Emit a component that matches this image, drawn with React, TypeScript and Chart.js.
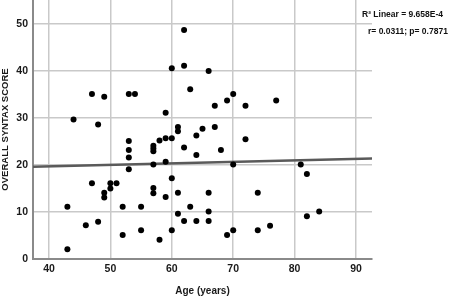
import React, { useEffect, useRef } from "react";
import { Chart, registerables } from "chart.js";

Chart.register(...registerables);

const ages = [
  47, 49, 53, 54, 44, 48, 62, 60, 62, 66, 63, 70, 69, 67, 72, 59, 61, 61, 65, 67,
  64, 77, 72, 57, 57, 57, 58, 59, 60, 62, 64, 68, 57, 59, 70, 60, 57, 57, 59, 61,
  66, 74, 55, 63, 61, 66, 66, 62, 64, 55, 60, 58, 69, 70, 74, 53, 53, 53, 53, 47,
  50, 50, 51, 49, 49, 43, 52, 46, 48, 52, 43, 76, 81, 82, 82, 84,
];
const scores = [
  35.1, 34.5, 35.1, 35.1, 29.7, 28.6, 48.7, 40.6, 41.1, 40.0, 36.1, 35.1, 33.7, 32.6, 32.6, 31.1, 28.1, 27.2, 27.7, 28.1,
  26.3, 33.7, 25.5, 24.1, 23.5, 22.9, 25.2, 25.7, 25.7, 23.7, 22.1, 23.2, 20.1, 20.7, 20.1, 17.2, 15.1, 14.0, 13.2, 14.1,
  14.1, 14.1, 11.1, 11.1, 9.6, 10.1, 8.1, 8.1, 8.1, 6.1, 6.1, 4.1, 5.1, 6.1, 6.1, 25.1, 23.2, 21.6, 19.1, 16.1,
  16.1, 15.0, 16.1, 14.1, 13.1, 11.1, 11.1, 7.2, 7.9, 5.1, 2.1, 7.1, 20.1, 18.1, 9.1, 10.1,
];
const fitX = [37.4, 92.6];
const fitY = [19.6, 21.4];
const xTicks = [40, 50, 60, 70, 80, 90];
const yTicks = [0, 10, 20, 30, 40, 50];
const xTitle = "Age (years)";
const yTitle = "OVERALL SYNTAX SCORE";
const annotation = ["R² Linear = 9.658E-4", "r= 0.0311; p= 0.7871"];

const FONT = "'Liberation Sans', Arial, sans-serif";

export default function App() {
  const ref = useRef<HTMLCanvasElement | null>(null);

  useEffect(() => {
    if (!ref.current) return;
    const annotationPlugin = {
      id: "annot",
      afterDraw(chart: any) {
        const ctx = chart.ctx;
        ctx.save();
        ctx.fillStyle = "#111";
        ctx.font = `bold 8.5px ${FONT}`;
        ctx.textBaseline = "middle";
        ctx.textAlign = "left";
        ctx.fillText(annotation[0], 362, 15);
        ctx.fillText(annotation[1], 368, 32);
        ctx.restore();
      },
    };
    const chart = new Chart(ref.current, {
      type: "scatter",
      data: {
        datasets: [
          {
            label: "fit",
            type: "line",
            data: fitX.map((x, i) => ({ x, y: fitY[i] })),
            borderColor: "#5a5a5a",
            borderWidth: 2.5,
            pointRadius: 0,
            fill: false,
            order: 2,
          } as any,
          {
            label: "points",
            data: ages.map((x, i) => ({ x, y: scores[i] })),
            backgroundColor: "#000",
            borderColor: "#000",
            pointRadius: 3,
            borderWidth: 0,
            order: 1,
          },
        ],
      },
      plugins: [annotationPlugin],
      options: {
        animation: false,
        responsive: false,
        maintainAspectRatio: false,
        layout: { padding: { left: 0, top: 0, right: 84, bottom: 0 }, autoPadding: false },
        plugins: { legend: { display: false }, tooltip: { enabled: false } },
        scales: {
          x: {
            type: "linear",
            min: 37.4,
            max: 92.6,
            afterBuildTicks: (s: any) => {
              s.ticks = xTicks.map((v) => ({ value: v }));
            },
            afterFit: (s: any) => {
              s.height = 38;
              s.paddingLeft = 0;
              s.paddingRight = 0;
            },
            ticks: {
              color: "#1a1a1a",
              font: { family: FONT, size: 10.5, weight: "bold" },
              padding: 4,
              maxRotation: 0,
            },
            grid: { color: "#c9c9c9", lineWidth: 1.5, drawTicks: false },
            border: { color: "#8a8a8a", width: 2 },
            title: {
              display: true,
              text: xTitle,
              color: "#1a1a1a",
              font: { family: FONT, size: 10, weight: "bold" },
              padding: { top: 0, bottom: 0 },
            },
          },
          y: {
            type: "linear",
            min: 0,
            max: 55.1,
            afterBuildTicks: (s: any) => {
              s.ticks = yTicks.map((v) => ({ value: v }));
            },
            afterFit: (s: any) => {
              s.width = 33;
              s.paddingTop = 0;
              s.paddingBottom = 0;
            },
            ticks: {
              color: "#1a1a1a",
              font: { family: FONT, size: 10.5, weight: "bold" },
              padding: 5,
            },
            grid: { color: "#c9c9c9", lineWidth: 1.5, drawTicks: false },
            border: { color: "#8a8a8a", width: 2 },
            title: {
              display: true,
              text: yTitle,
              color: "#1a1a1a",
              font: { family: FONT, size: 9.5, weight: "bold" },
              padding: { top: 0, bottom: 0 },
            },
          },
        },
      },
    });
    return () => chart.destroy();
  }, []);

  return (
    <div style={{ position: "absolute", left: 0, top: 0, width: 456, height: 297, background: "#fff" }}>
      <canvas ref={ref} width={456} height={297} style={{ display: "block", width: 456, height: 297 }} />
    </div>
  );
}
